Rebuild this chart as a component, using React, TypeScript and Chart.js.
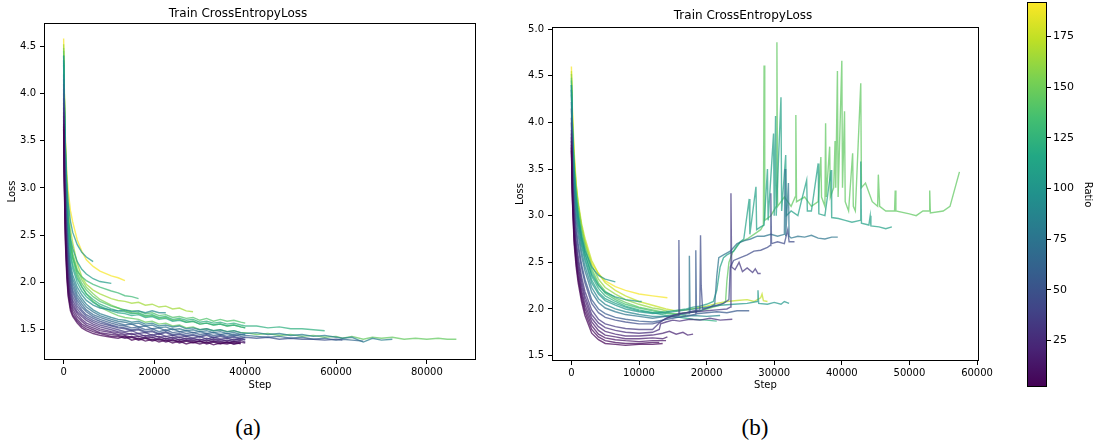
import React, { useEffect, useRef } from "react";
import { Chart, registerables } from "chart.js";

Chart.register(...registerables);

const FONT = "'DejaVu Sans', sans-serif";
const TITLE = "Train CrossEntropyLoss";
const RATIO_MIN = 2;
const RATIO_MAX = 192;

const colorbarTicks = [25, 50, 75, 100, 125, 150, 175];
const leftXTicks = [0, 20000, 40000, 60000, 80000];
const leftYTicks = [1.5, 2.0, 2.5, 3.0, 3.5, 4.0, 4.5];
const rightXTicks = [0, 10000, 20000, 30000, 40000, 50000, 60000];
const rightYTicks = [1.5, 2.0, 2.5, 3.0, 3.5, 4.0, 4.5, 5.0];

// ---------- (a) left panel: shared step grid, one loss list per run ----------
const leftSteps = [0, 150, 400, 700, 1000, 1500, 2000, 3000, 4000, 5000, 6500, 8000, 10500, 12000, 13500, 15000, 16500, 18000, 19500, 21000, 22500, 24000, 25500, 27000, 28500, 30000, 31500, 33000, 34500, 36000, 37500, 39000, 40000, 42500, 45000, 47500, 50000, 52500, 55000, 57500, 60000, 61400, 63500, 66000, 68000, 70000, 72400, 75000, 77500, 80000, 82500, 84500, 86500];
const leftRatios = [2, 6, 10, 15, 20, 26, 32, 40, 48, 56, 64, 72, 82, 90, 100, 106, 114, 122, 130, 138, 146, 154, 165, 190];
const leftLoss = [
  [3.62, 3.00, 2.40, 2.05, 1.85, 1.70, 1.64, 1.57, 1.52, 1.49, 1.46, 1.44, 1.42, 1.41, 1.43, 1.39, 1.41, 1.38, 1.40, 1.37, 1.39, 1.36, 1.38, 1.35, 1.37, 1.35, 1.37, 1.34, 1.36, 1.35, 1.37, 1.35],
  [3.65, 3.05, 2.45, 2.09, 1.88, 1.73, 1.66, 1.59, 1.54, 1.51, 1.48, 1.46, 1.43, 1.43, 1.41, 1.42, 1.39, 1.41, 1.38, 1.40, 1.37, 1.39, 1.36, 1.38, 1.36, 1.38, 1.35, 1.37, 1.35, 1.37, 1.35, 1.36],
  [3.68, 3.10, 2.50, 2.13, 1.92, 1.76, 1.69, 1.61, 1.56, 1.53, 1.50, 1.47, 1.45, 1.44, 1.42, 1.43, 1.40, 1.42, 1.39, 1.41, 1.38, 1.40, 1.37, 1.39, 1.37, 1.38, 1.36, 1.38, 1.36, 1.37, 1.35, 1.37, 1.36],
  [3.72, 3.15, 2.56, 2.18, 1.96, 1.80, 1.72, 1.64, 1.59, 1.55, 1.52, 1.49, 1.47, 1.45, 1.44, 1.42, 1.43, 1.41, 1.42, 1.39, 1.41, 1.38, 1.40, 1.38, 1.39, 1.37, 1.39, 1.37, 1.38, 1.36, 1.38, 1.37],
  [3.76, 3.20, 2.61, 2.23, 2.00, 1.83, 1.75, 1.67, 1.61, 1.57, 1.54, 1.51, 1.48, 1.47, 1.45, 1.46, 1.43, 1.44, 1.42, 1.43, 1.40, 1.42, 1.39, 1.41, 1.39, 1.40, 1.38, 1.40, 1.38, 1.39, 1.37, 1.39, 1.37],
  [3.80, 3.25, 2.66, 2.28, 2.04, 1.87, 1.78, 1.69, 1.64, 1.60, 1.56, 1.53, 1.50, 1.48, 1.47, 1.45, 1.46, 1.43, 1.45, 1.42, 1.43, 1.41, 1.42, 1.40, 1.41, 1.39, 1.41, 1.39, 1.40, 1.38, 1.40, 1.39],
  [3.85, 3.30, 2.72, 2.33, 2.08, 1.91, 1.81, 1.72, 1.66, 1.62, 1.58, 1.55, 1.52, 1.50, 1.48, 1.49, 1.46, 1.47, 1.44, 1.46, 1.43, 1.44, 1.42, 1.43, 1.41, 1.43, 1.40, 1.42, 1.40, 1.41, 1.39, 1.41, 1.39],
  [3.90, 3.36, 2.78, 2.38, 2.13, 1.95, 1.85, 1.75, 1.69, 1.64, 1.60, 1.57, 1.54, 1.52, 1.51, 1.49, 1.50, 1.47, 1.48, 1.45, 1.47, 1.44, 1.45, 1.43, 1.44, 1.42, 1.44, 1.41, 1.43, 1.41, 1.42, 1.40, 1.40],
  [3.95, 3.42, 2.84, 2.43, 2.18, 1.99, 1.89, 1.78, 1.71, 1.66, 1.62, 1.59, 1.55, 1.53, 1.52, 1.50, 1.51, 1.48, 1.49, 1.46, 1.48, 1.45, 1.46, 1.44, 1.45, 1.43, 1.45, 1.42, 1.44, 1.42, 1.43, 1.41, 1.42, 1.41, 1.42, 1.40, 1.41, 1.40, 1.40, 1.39, 1.40, 1.39],
  [4.00, 3.48, 2.90, 2.49, 2.23, 2.03, 1.92, 1.81, 1.74, 1.69, 1.64, 1.61, 1.57, 1.55, 1.54, 1.52, 1.53, 1.50, 1.51, 1.48, 1.50, 1.47, 1.48, 1.46, 1.47, 1.45, 1.46, 1.44, 1.45, 1.43, 1.45, 1.43, 1.42],
  [4.05, 3.54, 2.96, 2.54, 2.28, 2.07, 1.96, 1.84, 1.77, 1.71, 1.66, 1.63, 1.59, 1.57, 1.55, 1.56, 1.53, 1.54, 1.51, 1.52, 1.49, 1.51, 1.48, 1.49, 1.47, 1.48, 1.46, 1.47, 1.45, 1.46, 1.44, 1.45, 1.44, 1.43, 1.42, 1.43, 1.41, 1.42, 1.40, 1.41, 1.39, 1.40, 1.39, 1.38],
  [4.10, 3.60, 3.02, 2.60, 2.33, 2.11, 2.00, 1.87, 1.80, 1.74, 1.69, 1.65, 1.61, 1.59, 1.58, 1.56, 1.57, 1.54, 1.55, 1.52, 1.53, 1.50, 1.51, 1.49, 1.50, 1.48, 1.49, 1.47, 1.48, 1.46, 1.47, 1.45, 1.45],
  [4.15, 3.66, 3.08, 2.66, 2.38, 2.16, 2.04, 1.91, 1.83, 1.77, 1.71, 1.67, 1.63, 1.61, 1.60, 1.58, 1.59, 1.56, 1.57, 1.54, 1.55, 1.53, 1.54, 1.51, 1.52, 1.50, 1.51, 1.49, 1.50, 1.48, 1.49, 1.47, 1.46, 1.47, 1.45, 1.46, 1.44, 1.45, 1.43, 1.44, 1.42, 1.41, 1.42, 1.37, 1.41, 1.39, 1.40],
  [4.20, 3.70, 3.12, 2.70, 2.42, 2.20, 2.08, 1.95, 1.87, 1.81, 1.76, 1.73, 1.71, 1.70, 1.71, 1.69, 1.70, 1.68, 1.70, 1.68, 1.68],
  [4.40, 3.95, 3.42, 3.05, 2.85, 2.65, 2.53, 2.40, 2.32, 2.27, 2.22],
  [4.35, 3.85, 3.30, 2.92, 2.68, 2.47, 2.36, 2.22, 2.14, 2.09, 2.04, 2.01, 1.99],
  [4.30, 3.80, 3.22, 2.80, 2.52, 2.28, 2.15, 2.00, 1.91, 1.85, 1.79, 1.75, 1.70, 1.68, 1.67, 1.65, 1.66, 1.63, 1.64, 1.61, 1.62, 1.59, 1.60, 1.58, 1.59, 1.56, 1.57, 1.55, 1.56, 1.54, 1.55, 1.53, 1.52],
  [4.32, 3.82, 3.25, 2.84, 2.56, 2.32, 2.19, 2.04, 1.95, 1.88, 1.82, 1.77, 1.72, 1.70, 1.69, 1.67, 1.68, 1.65, 1.66, 1.63, 1.64, 1.61, 1.62, 1.60, 1.61, 1.58, 1.59, 1.57, 1.58, 1.56, 1.57, 1.55, 1.54, 1.54, 1.52, 1.53, 1.51, 1.51, 1.50, 1.49],
  [4.35, 3.88, 3.32, 2.92, 2.64, 2.40, 2.27, 2.12, 2.06, 2.02, 1.98, 1.95, 1.91, 1.89, 1.86, 1.85, 1.83],
  [4.40, 3.92, 3.36, 2.95, 2.66, 2.41, 2.27, 2.10, 1.99, 1.92, 1.85, 1.80, 1.75, 1.73, 1.71, 1.70, 1.70, 1.67, 1.68, 1.65, 1.66, 1.63, 1.64, 1.62, 1.63, 1.60, 1.62, 1.59, 1.61, 1.59, 1.60, 1.58, 1.57],
  [4.45, 3.96, 3.38, 2.96, 2.66, 2.40, 2.25, 2.07, 1.96, 1.88, 1.80, 1.74, 1.68, 1.65, 1.63, 1.62, 1.61, 1.58, 1.59, 1.56, 1.57, 1.54, 1.55, 1.52, 1.53, 1.50, 1.51, 1.49, 1.50, 1.48, 1.49, 1.47, 1.47, 1.45, 1.46, 1.44, 1.45, 1.43, 1.44, 1.42, 1.43, 1.41, 1.43, 1.40, 1.42, 1.41, 1.42, 1.40, 1.41, 1.40, 1.41, 1.40, 1.40],
  [4.48, 4.00, 3.42, 3.00, 2.70, 2.45, 2.31, 2.14, 2.03, 1.95, 1.88, 1.82, 1.76, 1.73, 1.70, 1.68, 1.67, 1.64, 1.65, 1.62, 1.63, 1.60, 1.61, 1.58, 1.59, 1.56, 1.57, 1.55, 1.56, 1.54, 1.55, 1.53, 1.52],
  [4.52, 4.05, 3.48, 3.08, 2.80, 2.56, 2.42, 2.20, 2.06, 1.98, 1.92, 1.88, 1.83, 1.81, 1.80, 1.78, 1.79, 1.76, 1.77, 1.74, 1.75, 1.72, 1.73, 1.70, 1.69],
  [4.58, 4.00, 3.50, 3.15, 2.97, 2.76, 2.64, 2.45, 2.33, 2.24, 2.17, 2.12, 2.07, 2.05, 2.02],
];

// ---------- (b) right panel: shared early grid + per-run late steps ----------
const rightEarlySteps = [0, 150, 400, 700, 1000, 1500, 2000, 3000, 4000, 5000, 6500, 8000, 10000, 12000];
const rightRatios = [2, 6, 10, 15, 20, 26, 33, 45, 55, 75, 88, 100, 102, 106, 110, 120, 135, 145, 160, 175, 190];
const rightEarlyLoss = [
  [3.70, 3.15, 2.70, 2.45, 2.28, 2.08, 1.93, 1.74, 1.67, 1.63, 1.62, 1.61, 1.62, 1.62],
  [3.73, 3.18, 2.74, 2.49, 2.32, 2.12, 1.97, 1.78, 1.70, 1.66, 1.64, 1.63, 1.63, 1.64],
  [3.76, 3.22, 2.78, 2.53, 2.36, 2.16, 2.01, 1.82, 1.73, 1.69, 1.67, 1.66, 1.65, 1.66],
  [3.80, 3.26, 2.83, 2.58, 2.41, 2.20, 2.05, 1.86, 1.77, 1.72, 1.70, 1.68, 1.68, 1.69],
  [3.84, 3.30, 2.88, 2.63, 2.46, 2.25, 2.10, 1.90, 1.81, 1.76, 1.73, 1.71, 1.71, 1.72],
  [3.88, 3.35, 2.93, 2.68, 2.51, 2.30, 2.14, 1.94, 1.85, 1.80, 1.77, 1.75, 1.74, 1.75],
  [3.92, 3.40, 2.98, 2.73, 2.56, 2.35, 2.19, 1.99, 1.89, 1.84, 1.81, 1.79, 1.78, 1.78],
  [4.00, 3.50, 3.08, 2.82, 2.65, 2.44, 2.28, 2.06, 1.96, 1.91, 1.88, 1.86, 1.84, 1.84],
  [4.05, 3.55, 3.12, 2.87, 2.70, 2.48, 2.32, 2.10, 2.00, 1.95, 1.91, 1.89, 1.87, 1.86],
  [4.15, 3.65, 3.22, 2.96, 2.79, 2.57, 2.41, 2.18, 2.07, 2.01, 1.97, 1.94, 1.92, 1.90],
  [4.22, 3.72, 3.28, 3.02, 2.85, 2.62, 2.46, 2.23, 2.11, 2.05, 2.00, 1.97, 1.94, 1.92],
  [4.40, 3.95, 3.50, 3.20, 3.00, 2.78, 2.63, 2.45, 2.36, 2.32, 2.29],
  [4.30, 3.80, 3.36, 3.09, 2.91, 2.68, 2.52, 2.28, 2.16, 2.09, 2.04, 2.00, 1.97, 1.95],
  [4.35, 3.88, 3.44, 3.16, 2.98, 2.75, 2.59, 2.37, 2.25, 2.18, 2.13, 2.10, 2.08],
  [4.35, 3.85, 3.40, 3.12, 2.94, 2.71, 2.55, 2.31, 2.18, 2.11, 2.06, 2.02, 1.98, 1.96],
  [4.40, 3.90, 3.45, 3.17, 2.99, 2.76, 2.60, 2.35, 2.22, 2.14, 2.08, 2.03, 1.99, 1.96],
  [4.45, 3.96, 3.51, 3.23, 3.05, 2.81, 2.65, 2.40, 2.26, 2.17, 2.10, 2.05, 2.01, 1.98],
  [4.48, 4.00, 3.55, 3.27, 3.08, 2.85, 2.68, 2.43, 2.28, 2.19, 2.12, 2.07, 2.02, 1.99],
  [4.52, 4.04, 3.60, 3.31, 3.12, 2.89, 2.72, 2.47, 2.32, 2.23, 2.16, 2.10, 2.05, 2.01],
  [4.55, 4.08, 3.64, 3.34, 3.15, 2.92, 2.76, 2.52, 2.38, 2.28, 2.20, 2.14, 2.08, 2.04],
  [4.60, 4.15, 3.70, 3.35, 3.12, 2.88, 2.72, 2.49, 2.38, 2.30, 2.24, 2.20, 2.16, 2.14],
];
const rightLateSteps = [
  [13500],
  [13000],
  [14000],
  [13500, 14200],
  [13500, 14500, 15500, 16500, 17200, 18000],
  [13000, 13200, 14000, 15000, 16000, 17500, 19000, 20500, 22000, 23800],
  [13000, 14000, 15000, 16000, 17000, 18500, 20000, 21500, 23000, 23500, 23600, 23700, 24200, 24800, 25300, 26000, 26800, 27200, 27600, 28000],
  [13000, 14000, 15000, 15800, 15900, 16000, 17000, 18000, 19000, 19100, 19200, 19400, 20500, 21500, 22500, 23300, 23500, 24000, 25000, 26000, 27000, 28000, 29000, 29400, 29500, 29600, 30500, 31500, 32000, 32200, 33000],
  [13500, 15000, 16500, 18300, 18400, 18500, 20000, 21500, 23000, 24500, 26300],
  [14000, 16000, 17400, 17450, 17550, 19000, 20500, 21200, 21500, 21800, 22500, 23500, 24500, 25500, 26500, 27500, 28500, 29500, 30500, 31500, 31600, 31700, 32100, 32200, 32500, 33500, 34500, 35500, 36500, 37500, 38500, 39400],
  [14000, 16000, 18000, 20000, 22000],
  [],
  [14000, 16000, 18000, 20000, 22000, 24000, 26000, 27500, 27600, 27700, 29000, 30000, 31000, 31500, 32200],
  [10400],
  [14000, 16000, 17000, 18000, 19000, 20000, 21000, 21500, 22000, 22500, 23000, 24000, 25000, 25500, 26300, 26400, 27300, 27400, 28000, 28500, 29000, 29100, 29900, 30000, 30200, 30300, 31000, 31100, 31700, 31800, 32500, 33500, 34000, 34800, 34900, 35500, 36500, 36600, 37500, 38400, 38500, 39500, 40500, 41500, 42700, 42800, 42900, 44000, 44200, 44300, 45500, 46500, 47400],
  [14000, 16000, 18000, 20000, 21500],
  [14000, 15500, 17000],
  [14000, 15000, 16000, 17000, 18000, 19000, 20000, 21000, 22000, 22800, 23000, 23300, 23800, 24500, 25000, 26000, 27000, 28000, 28400, 28500, 28600, 29500, 30300, 30400, 30500, 31500, 32500, 33100, 33200, 33300, 34500, 35500, 36500, 36900, 37000, 37500, 37600, 37700, 38200, 38300, 38800, 39000, 39100, 39350, 39450, 40000, 40100, 40400, 40500, 41000, 41600, 41700, 42000, 42800, 42900, 43500, 44500, 45300, 45400, 45600, 46500, 47800, 47900, 48000, 50000, 51000, 52000, 52900, 53000, 53100, 55000, 56000, 57400],
  [13000, 14500],
  [14000, 15500, 17000, 18500, 20000, 21500, 23000, 24500, 26000, 27000, 28000, 28200, 28400, 29000],
  [14200],
];
const rightLateLoss = [
  [1.63],
  [1.64],
  [1.66],
  [1.68, 1.70],
  [1.74, 1.76, 1.73, 1.75, 1.72, 1.73],
  [1.78, 1.84, 1.86, 1.88, 1.87, 1.89, 1.88, 1.90, 1.88, 1.89],
  [1.85, 1.90, 1.93, 1.95, 1.96, 1.97, 1.98, 1.99, 2.00, 2.02, 3.24, 2.45, 2.42, 2.50, 2.40, 2.44, 2.39, 2.43, 2.38, 2.38],
  [1.86, 1.90, 1.92, 1.93, 2.74, 1.95, 1.96, 1.98, 1.99, 2.79, 2.25, 2.00, 2.02, 2.04, 2.06, 2.10, 2.45, 2.52, 2.55, 2.58, 2.62, 2.63, 2.66, 2.68, 3.24, 2.70, 2.72, 2.70, 2.85, 2.72, 2.72],
  [1.88, 1.90, 1.92, 1.94, 2.63, 1.95, 1.96, 1.97, 1.96, 1.98, 1.98],
  [1.92, 1.94, 1.95, 2.57, 1.96, 1.98, 2.02, 2.05, 2.35, 2.55, 2.58, 2.62, 2.70, 2.73, 2.75, 2.78, 2.78, 2.80, 2.78, 2.80, 3.50, 2.78, 3.35, 2.78, 2.76, 2.78, 2.77, 2.79, 2.76, 2.75, 2.77, 2.77],
  [1.92, 1.91, 1.93, 1.92, 1.93],
  [],
  [1.96, 1.98, 2.00, 2.02, 2.04, 2.05, 2.06, 2.08, 2.20, 2.06, 2.05, 2.07, 2.05, 2.08, 2.06],
  [2.08],
  [1.97, 1.99, 2.00, 2.02, 2.03, 2.05, 2.08, 2.20, 2.45, 2.55, 2.58, 2.62, 2.72, 2.75, 3.18, 2.80, 3.31, 2.85, 2.88, 2.90, 3.50, 2.95, 3.88, 3.00, 4.07, 3.00, 4.27, 3.05, 3.65, 3.00, 3.05, 3.00, 3.15, 3.38, 3.05, 3.05, 3.56, 3.02, 3.00, 3.49, 2.98, 2.97, 2.95, 2.93, 2.95, 3.58, 2.92, 2.90, 3.00, 2.89, 2.88, 2.86, 2.88],
  [1.93, 1.91, 1.89, 1.88, 1.87],
  [1.95, 1.94, 1.93],
  [1.96, 1.95, 1.95, 1.96, 1.97, 1.98, 2.00, 2.02, 2.04, 2.08, 2.30, 2.50, 2.60, 2.68, 2.72, 2.75, 2.80, 2.85, 2.90, 4.61, 2.95, 3.00, 3.10, 4.86, 3.10, 3.20, 3.10, 3.20, 4.08, 3.15, 3.20, 3.10, 3.15, 3.63, 3.20, 3.10, 3.99, 3.20, 3.74, 3.20, 3.30, 3.80, 3.30, 4.55, 3.20, 4.66, 3.30, 4.12, 3.15, 3.05, 3.67, 3.10, 3.05, 4.42, 3.30, 3.35, 3.15, 3.10, 3.44, 3.10, 3.05, 3.05, 3.27, 3.05, 3.02, 3.00, 3.05, 3.05, 3.27, 3.03, 3.05, 3.10, 3.47],
  [2.00, 1.97],
  [2.00, 1.98, 1.99, 2.01, 2.03, 2.06, 2.08, 2.09, 2.10, 2.08, 2.12, 2.16, 2.09, 2.08],
  [2.12],
];

// ---------- colour map ----------
const VIRIDIS = ["#440154", "#482475", "#414487", "#355f8d", "#2a788e", "#21918c", "#22a884", "#44bf70", "#7ad151", "#bddf26", "#fde725"];

function hexRGB(h: string) {
  return [parseInt(h.slice(1, 3), 16), parseInt(h.slice(3, 5), 16), parseInt(h.slice(5, 7), 16)];
}

function ratioColor(r: number, alpha: number) {
  const t = Math.min(1, Math.max(0, (r - RATIO_MIN) / (RATIO_MAX - RATIO_MIN)));
  const p = t * (VIRIDIS.length - 1);
  const i = Math.min(VIRIDIS.length - 2, Math.floor(p));
  const f = p - i;
  const a = hexRGB(VIRIDIS[i]);
  const b = hexRGB(VIRIDIS[i + 1]);
  const c = a.map((v, k) => Math.round(v + (b[k] - v) * f));
  return `rgba(${c[0]},${c[1]},${c[2]},${alpha})`;
}

function lineDataset(ratio: number, steps: number[], loss: number[]) {
  return {
    data: loss.map((y, k) => ({ x: steps[k], y })),
    borderColor: ratioColor(ratio, 0.72),
    borderWidth: 1.4,
    pointRadius: 0,
    fill: false,
    tension: 0,
  };
}

const leftDatasets = () => leftRatios.map((r, i) => lineDataset(r, leftSteps, leftLoss[i]));
const rightDatasets = () =>
  rightRatios.map((r, i) => {
    const early = rightEarlyLoss[i];
    const steps = rightEarlySteps.slice(0, early.length).concat(rightLateSteps[i]);
    return lineDataset(r, steps, early.concat(rightLateLoss[i]));
  });

const boxPlugin = {
  id: "boxSpines",
  afterDraw(chart: any) {
    const { ctx, chartArea: a } = chart;
    ctx.save();
    ctx.strokeStyle = "#000";
    ctx.lineWidth = 1;
    ctx.strokeRect(Math.round(a.left) + 0.5, Math.round(a.top) + 0.5, Math.round(a.right - a.left) - 1, Math.round(a.bottom - a.top) - 1);
    ctx.restore();
  },
};

function lineConfig(p: any) {
  const tickFont = { family: FONT, size: 10 };
  return {
    type: "line",
    data: { datasets: p.datasets },
    options: {
      animation: false,
      responsive: false,
      devicePixelRatio: 1,
      layout: { padding: { left: 0, right: p.padRight, top: 0, bottom: 0 } },
      plugins: {
        legend: { display: false },
        tooltip: { enabled: false },
        title: {
          display: true,
          text: TITLE,
          color: "#000",
          font: { family: FONT, size: 12, weight: "normal", lineHeight: 1.2 },
          padding: { top: p.titleTop, bottom: p.titleBottom },
        },
      },
      scales: {
        x: {
          type: "linear",
          min: p.xMin,
          max: p.xMax,
          afterBuildTicks: (s: any) => {
            s.ticks = p.xTicks.map((v: number) => ({ value: v }));
          },
          afterFit: (s: any) => {
            s.height = p.xHeight;
          },
          ticks: { color: "#000", font: tickFont, padding: 2, maxRotation: 0, autoSkip: false, callback: (v: any) => String(v) },
          grid: { display: true, drawOnChartArea: false, drawTicks: true, tickLength: 4, tickColor: "#000" },
          border: { display: false },
          title: { display: true, text: "Step", color: "#000", font: tickFont, padding: { top: 0, bottom: 8.3 } },
        },
        y: {
          type: "linear",
          min: p.yMin,
          max: p.yMax,
          afterBuildTicks: (s: any) => {
            s.ticks = p.yTicks.map((v: number) => ({ value: v }));
          },
          afterFit: (s: any) => {
            s.width = p.yWidth;
          },
          ticks: { color: "#000", font: tickFont, padding: 4, autoSkip: false, callback: (v: any) => Number(v).toFixed(1) },
          grid: { display: true, drawOnChartArea: false, drawTicks: true, tickLength: 4, tickColor: "#000" },
          border: { display: false },
          title: { display: true, text: "Loss", color: "#000", font: tickFont, padding: { top: p.yTitlePad, bottom: 0 } },
        },
      },
    },
    plugins: [boxPlugin],
  };
}

function colorbarConfig() {
  return {
    type: "bar",
    data: {
      labels: [""],
      datasets: [
        {
          data: [[RATIO_MIN, RATIO_MAX]],
          backgroundColor: (c: any) => {
            const a = c.chart.chartArea;
            if (!a) return VIRIDIS[5];
            const g = c.chart.ctx.createLinearGradient(0, a.bottom, 0, a.top);
            VIRIDIS.forEach((col, k) => g.addColorStop(k / (VIRIDIS.length - 1), col));
            return g;
          },
          borderWidth: 0,
          barPercentage: 1,
          categoryPercentage: 1,
        },
      ],
    },
    options: {
      animation: false,
      responsive: false,
      devicePixelRatio: 1,
      layout: { padding: { left: 7, right: 0, top: 2, bottom: 53 } },
      plugins: { legend: { display: false }, tooltip: { enabled: false } },
      scales: {
        x: { display: false },
        y: {
          position: "right",
          min: RATIO_MIN,
          max: RATIO_MAX,
          afterBuildTicks: (s: any) => {
            s.ticks = colorbarTicks.map((v) => ({ value: v }));
          },
          afterFit: (s: any) => {
            s.width = 52;
            s.paddingTop = 0;
            s.paddingBottom = 0;
          },
          ticks: { color: "#000", font: { family: FONT, size: 11 }, padding: 2, autoSkip: false },
          grid: { display: true, drawOnChartArea: false, drawTicks: true, tickLength: 4, tickColor: "#000" },
          border: { display: false },
          title: { display: true, text: "Ratio", color: "#000", font: { family: FONT, size: 10 }, padding: { top: 5, bottom: 0 } },
        },
      },
    },
    plugins: [boxPlugin],
  };
}

function ChartCanvas({ config, left, top, width, height }: any) {
  const ref = useRef<HTMLCanvasElement | null>(null);
  useEffect(() => {
    if (!ref.current) return;
    const chart = new Chart(ref.current, config());
    return () => chart.destroy();
  }, []);
  return (
    <canvas
      ref={ref}
      width={width}
      height={height}
      style={{ position: "absolute", left, top, width, height }}
    />
  );
}

const captionStyle: any = {
  position: "absolute",
  top: 414,
  width: 60,
  height: 28,
  lineHeight: "28px",
  textAlign: "center",
  fontFamily: "'Liberation Serif', 'DejaVu Serif', serif",
  fontSize: 23,
  color: "#000",
};

export default function App() {
  return (
    <div style={{ position: "fixed", left: 0, top: 0, width: 1099, height: 440, background: "#fff", overflow: "hidden" }}>
      <ChartCanvas
        left={0}
        top={0}
        width={490}
        height={400}
        config={() =>
          lineConfig({
            datasets: leftDatasets(),
            xMin: -4325,
            xMax: 90825,
            yMin: 1.18,
            yMax: 4.745,
            xTicks: leftXTicks,
            yTicks: leftYTicks,
            yWidth: 44,
            xHeight: 40,
            padRight: 14,
            titleTop: 6.5,
            titleBottom: 2.1,
            yTitlePad: 6.3,
          })
        }
      />
      <ChartCanvas
        left={505}
        top={0}
        width={490}
        height={400}
        config={() =>
          lineConfig({
            datasets: rightDatasets(),
            xMin: -2870,
            xMax: 60270,
            yMin: 1.442,
            yMax: 5.023,
            xTicks: rightXTicks,
            yTicks: rightYTicks,
            yWidth: 47,
            xHeight: 39,
            padRight: 14,
            titleTop: 8.8,
            titleBottom: 3.8,
            yTitlePad: 9,
          })
        }
      />
      <ChartCanvas left={1020} top={0} width={79} height={440} config={colorbarConfig} />
      <div style={{ ...captionStyle, left: 218 }}>(a)</div>
      <div style={{ ...captionStyle, left: 725 }}>(b)</div>
    </div>
  );
}
